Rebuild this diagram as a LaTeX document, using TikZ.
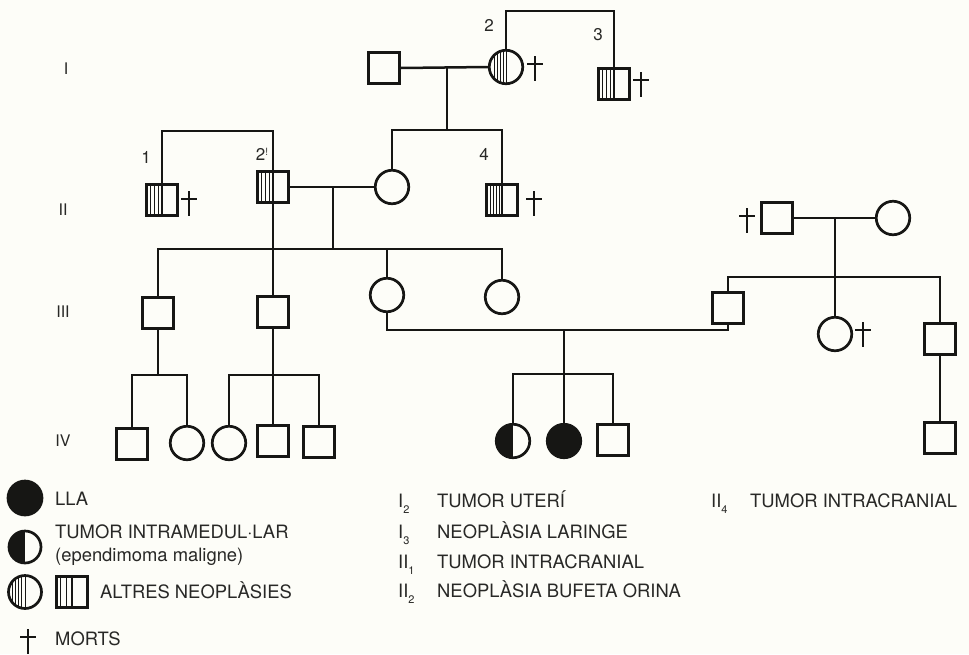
\documentclass[tikz,border=0pt]{standalone}
\usepackage{fontspec}
\setmainfont{TeX Gyre Heros}
\definecolor{paper}{RGB}{253,253,248}
\definecolor{ink}{RGB}{22,22,20}
\definecolor{txt}{RGB}{40,40,38}

\tikzset{
  ind/.style={draw=ink, line width=2.7pt, inner sep=0pt, fill=paper},
  male/.style={ind, rectangle, minimum size=31pt},
  female/.style={ind, circle, minimum size=33.5pt},
  % vertical hatching of the left half of a square, with a heavy middle bar
  sq hatch/.style={path picture={
    \draw[ink, line width=1.8pt] (path picture bounding box.north) -- (path picture bounding box.south);
    \foreach \k in {1,...,6}
      \draw[ink, line width=0.7pt] ([xshift=-\k*#1]path picture bounding box.north)
                                 -- ([xshift=-\k*#1]path picture bounding box.south);}},
  % vertical hatching of the left half of a circle
  circ hatch/.style={path picture={
    \foreach \k in {0,...,4}
      \draw[ink, line width=0.7pt] ([xshift=-\k*#1]path picture bounding box.north)
                                 -- ([xshift=-\k*#1]path picture bounding box.south);}},
  affected/.style={fill=ink},
  half affected/.style={path picture={
    \fill[ink] (path picture bounding box.north west) rectangle (path picture bounding box.south);}},
  link/.style={draw=ink, line width=2.5pt},
  deceased/.pic={\draw[ink, line width=1.4pt] (0,-12) -- (0,13) (-8,-4) -- (8,-4);},
  gen/.style={text=txt, font=\fontsize{16}{16}\selectfont, inner sep=0pt},
  num/.style={text=txt, font=\fontsize{17}{17}\selectfont, inner sep=0pt},
  legend/.style={text=txt, font=\fontsize{18.4}{20}\selectfont, inner sep=0pt, anchor=base west},
}
\newcommand\sub[1]{\raisebox{-0.35em}{\fontsize{11}{11}\selectfont #1}}

\begin{document}
\begin{tikzpicture}[x=1pt, y=-1pt]
\fill[paper] (0,0) rectangle (969,654);
\useasboundingbox (0,0) rectangle (969,654);

% generation numerals
\node[gen] (gI)   at (66,69)  {I};
\node[gen] (gII)  at (63,210) {II};
\node[gen] (gIII) at (63,312) {III};
\node[gen] (gIV)  at (63,441) {IV};

% ---- generation I
\node[male]                    (I1) at (384,68) {};
\node[female, circ hatch=3pt]  (I2) at (506,67) {};
\node[male, sq hatch=3.8pt]    (I3) at (614,84) {};
\node[num] (nI2) at (489,25) {2};
\node[num] (nI3) at (598,35) {3};
\pic at (535,68) {deceased};
\pic at (641,84) {deceased};

% ---- generation II
\node[male, sq hatch=3.8pt] (II1) at (162,200) {};
\node[male, sq hatch=3.8pt] (II2) at (273,187) {};
\node[female]               (II3) at (392,187) {};
\node[male, sq hatch=3pt]   (II4) at (502,200) {};
\node[male]                 (II5) at (777,218) {};
\node[female]               (II6) at (893,218) {};
\node[num] (nII1) at (146,157) {1};
\node[num] (nII2) at (262,154) {2\raisebox{0.25em}{\fontsize{10}{10}\selectfont !}};
\node[num] (nII4) at (484,154) {4};
\pic at (189,203) {deceased};
\pic at (534,203) {deceased};
\pic at (747,220) {deceased};

% ---- generation III
\node[male]   (III1) at (158,313) {};
\node[male]   (III2) at (273,312) {};
\node[female] (III3) at (387,295) {};
\node[female] (III4) at (502,297) {};
\node[male]   (III5) at (728,308) {};
\node[female] (III6) at (835,334) {};
\node[male]   (III7) at (940,339) {};
\pic at (863,334) {deceased};

% ---- generation IV
\node[male]                  (IV1) at (132,444) {};
\node[female]                (IV2) at (187,443) {};
\node[female]                (IV3) at (229,443) {};
\node[male]                  (IV4) at (273,441) {};
\node[male]                  (IV5) at (319,442) {};
\node[female, half affected] (IV6) at (513,441) {};
\node[female, affected]      (IV7) at (564,441) {};
\node[male]                  (IV8) at (613,440) {};
\node[male]                  (IV9) at (940,438) {};

% junction points
\coordinate (topI)  at (560,11);
\coordinate (mI)    at (447,68);
\coordinate (sI)    at (447,130);
\coordinate (topII) at (220,131);
\coordinate (mII)   at (333,187);
\coordinate (sII)   at (333,249);
\coordinate (mIIr)  at (835,218);
\coordinate (sIIr)  at (835,277);
\coordinate (mIII)  at (564,330);
\coordinate (sIII)  at (564,374);
\coordinate (s1)    at (158,375);
\coordinate (s2)    at (273,375);

% connectors
\draw[link] (I2.north) -- (I2.north |- topI) -| (I3.north);
\draw[link] (I1.east) -- (I2.west);
\draw[link] (mI) -- (sI);
\draw[link] (II3.north) |- (sI) -| (II4.north);

\draw[link] (II1.north) -- (II1.north |- topII) -| (II2.north);
\draw[link] (II2.east) -- (II3.west);
\draw[link] (mII) -- (sII);
\draw[link] (III1.north) |- (sII) -| (III4.north);
\draw[link] (II2.south) -- (III2.north);
\draw[link] (III3.north) -- (III3.north |- sII);

\draw[link] (II5.east) -- (II6.west);
\draw[link] (mIIr) -- (III6.north);
\draw[link] (III5.north) |- (sIIr) -| (III7.north);

\draw[link] (III3.south) |- (mIII) -| (III5.south);
\draw[link] (mIII) -- (IV7.north);
\draw[link] (IV6.north) |- (sIII) -| (IV8.north);

\draw[link] (III1.south) -- (s1);
\draw[link] (IV1.north) |- (s1) -| (IV2.north);
\draw[link] (III2.south) -- (IV4.north);
\draw[link] (IV3.north) |- (s2) -| (IV5.north);
\draw[link] (III7.south) -- (IV9.north);

% ---- legend
\node[female, affected, minimum size=34pt]         (Lall)  at (25,498) {};
\node[female, half affected, minimum size=32pt]    (Lhalf) at (25,547) {};
\node[female, circ hatch=3.2pt, minimum size=33pt] (Lhc)   at (25,592) {};
\node[male, sq hatch=6pt, minimum size=30.5pt]     (Lhs)   at (72,592) {};
\pic at (28,641) {deceased};

\node[legend] (tLLA)  at (55,505)    {LLA};
\node[legend] (tTIM)  at (55,538.5)  {TUMOR INTRAMEDUL·LAR};
\node[legend] (tEPE)  at (55,561)    {(ependimoma maligne)};
\node[legend] (tALT)  at (100,598.5) {ALTRES NEOPLÀSIES};
\node[legend] (tMOR)  at (55,645)    {MORTS};

\node[legend] (kI2)   at (398,507.5) {I\sub{2}};
\node[legend] (dI2)   at (437,507.5) {TUMOR UTERÍ};
\node[legend] (kI3)   at (398,538.5) {I\sub{3}};
\node[legend] (dI3)   at (437,538.5) {NEOPLÀSIA LARINGE};
\node[legend] (kII1)  at (398,568.5) {II\sub{1}};
\node[legend] (dII1)  at (437,568.5) {TUMOR INTRACRANIAL};
\node[legend] (kII2)  at (398,597.5) {II\sub{2}};
\node[legend] (dII2)  at (437,597.5) {NEOPLÀSIA BUFETA ORINA};
\node[legend] (kII4)  at (711,507.5) {II\sub{4}};
\node[legend] (dII4)  at (750,507.5) {TUMOR INTRACRANIAL};
\end{tikzpicture}
\end{document}
